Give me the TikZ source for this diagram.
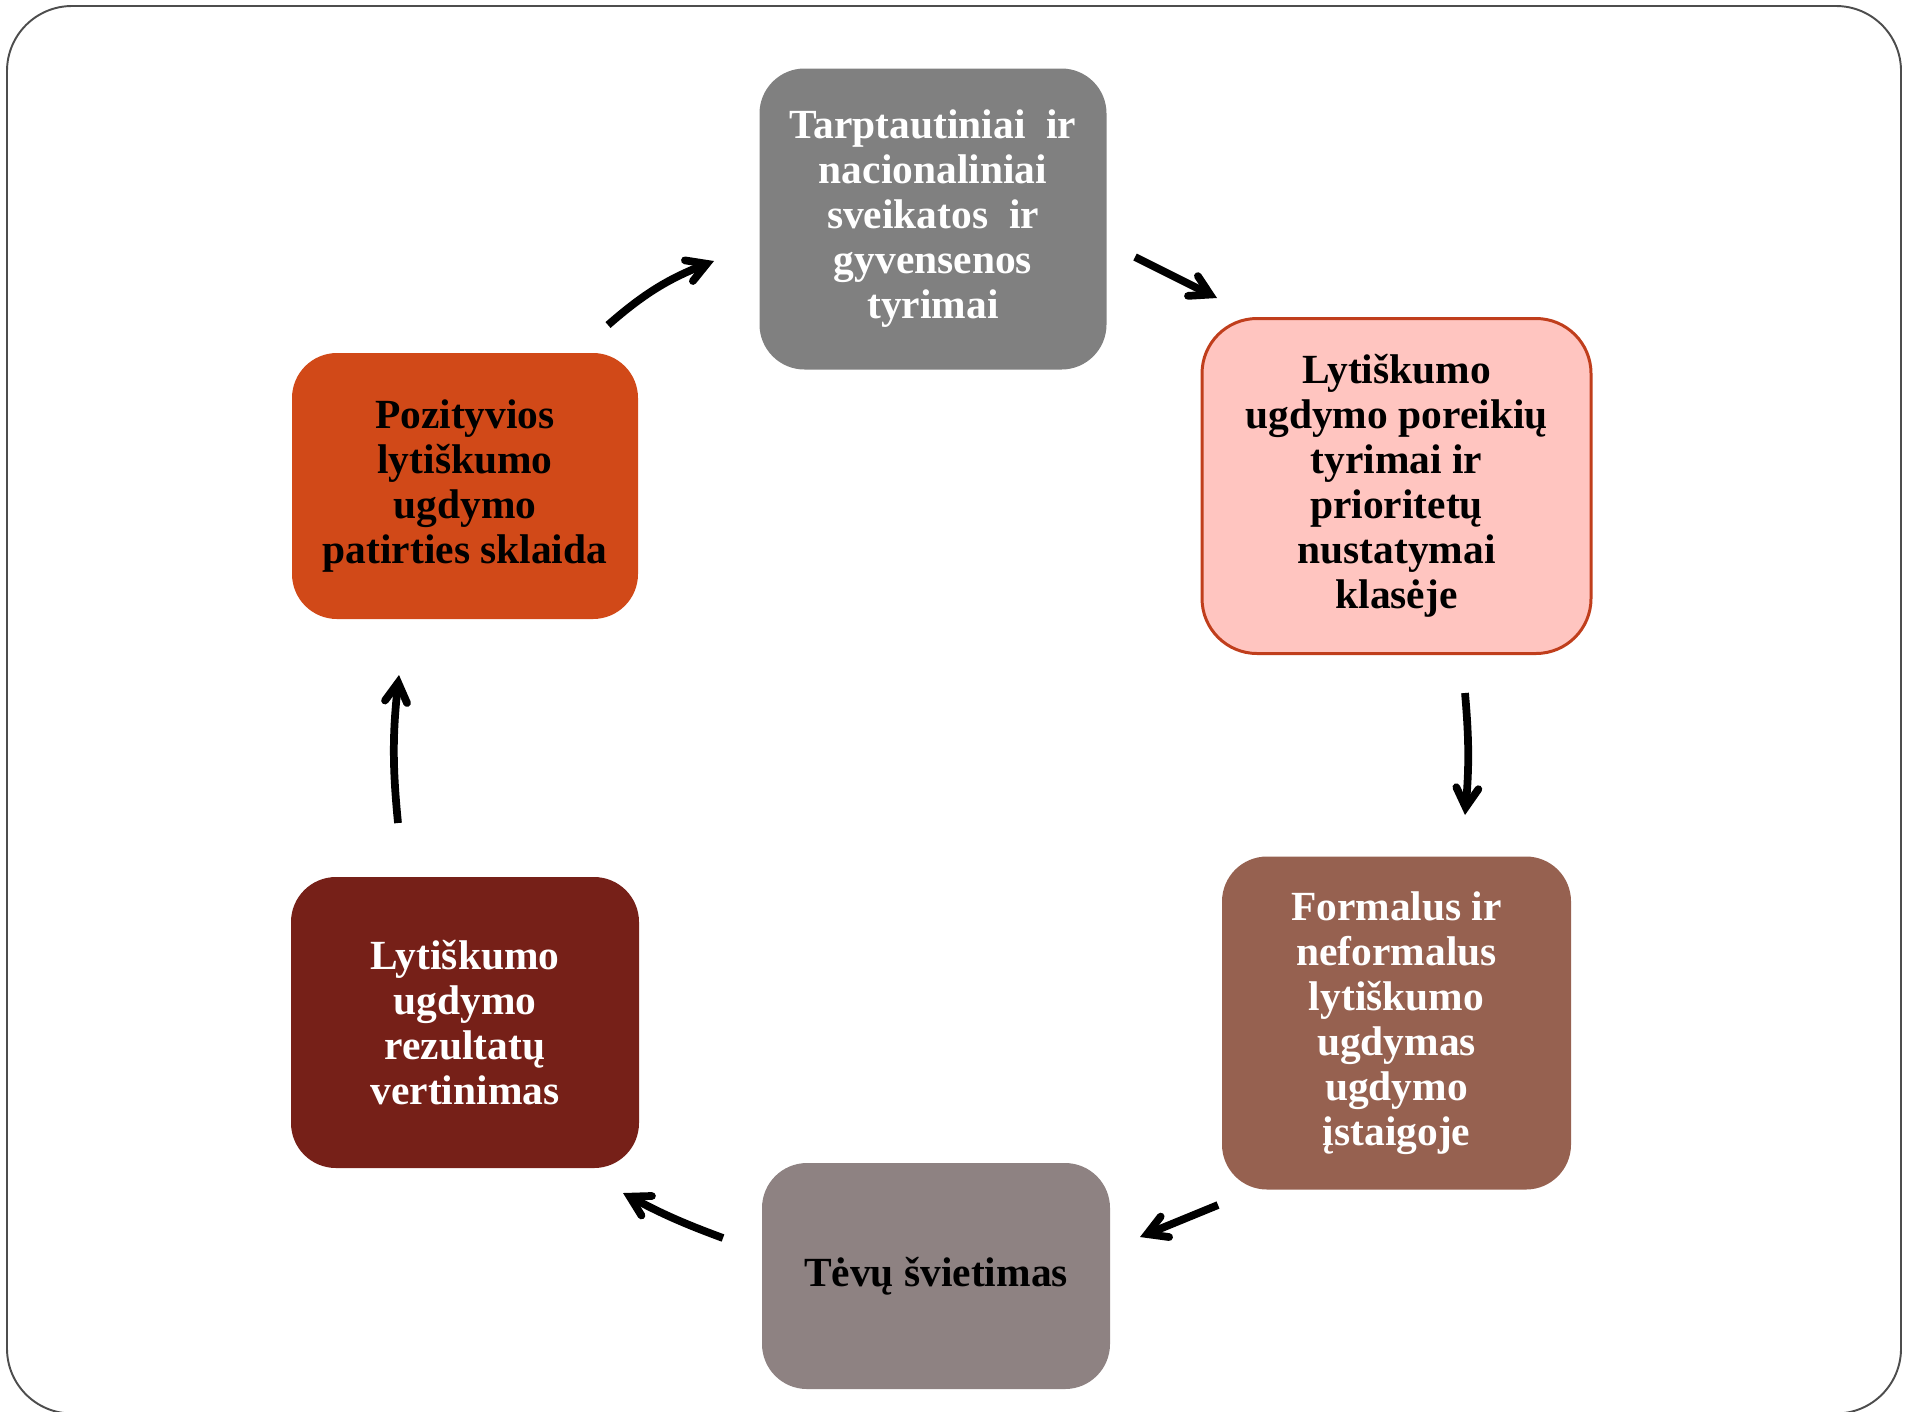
\documentclass[tikz,border=0pt]{standalone}
\usepackage{fontspec}
\setmainfont{Liberation Serif}
\usepackage{tikz}
\usetikzlibrary{arrows}

\definecolor{topgray}{RGB}{128,128,128}
\definecolor{pinkfill}{RGB}{255,197,192}
\definecolor{pinkline}{RGB}{192,62,28}
\definecolor{rust}{RGB}{209,73,24}
\definecolor{maroon}{RGB}{118,32,24}
\definecolor{brownish}{RGB}{150,97,80}
\definecolor{mauve}{RGB}{142,130,130}
\definecolor{framegray}{RGB}{77,77,77}

\begin{document}
\begin{tikzpicture}[->,>=angle 60,auto]
		\tikzstyle{stage}=[rectangle,rounded corners=0.9cm,align=center,inner sep=0pt,
			font=\bfseries\fontsize{23.6}{25.6}\selectfont];
		\tikzstyle{loop}=[line width=4.4pt,black];
		\useasboundingbox(0,0) rectangle (38.2,-28.22);
		\draw[-,framegray,line width=1.1pt,rounded corners=1.3cm](0.14,-0.12) rectangle (38.02,-28.27);

		\node[stage,fill=topgray,text=white,minimum width=6.94cm,minimum height=6.02cm](1) at (18.66,-4.38)
			{Tarptautiniai\ \ ir\\nacionaliniai\\sveikatos\ \ ir\\gyvensenos\\tyrimai};
		\node[stage,fill=rust,minimum width=6.92cm,minimum height=5.32cm](6) at (9.30,-9.72)
			{Pozityvios\\lytiškumo\\ugdymo\\patirties sklaida};
		\node[stage,fill=pinkfill,draw=pinkline,line width=1.7pt,rounded corners=1.1cm,
			minimum width=7.78cm,minimum height=6.70cm,right of=6,node distance=18.63cm](2)
			{Lytiškumo\\ugdymo poreikių\\tyrimai ir\\prioritetų\\nustatymai\\klasėje};
		\node[stage,fill=brownish,text=white,minimum width=6.98cm,minimum height=6.66cm,
			below of=2,node distance=10.74cm](3)
			{Formalus ir\\neformalus\\lytiškumo\\ugdymas\\ugdymo\\įstaigoje};
		\node[stage,fill=maroon,text=white,minimum width=6.96cm,minimum height=5.82cm,
			below of=6,node distance=10.73cm](5)
			{Lytiškumo\\ugdymo\\rezultatų\\vertinimas};
		\node[stage,fill=mauve,minimum width=6.96cm,minimum height=4.52cm,
			below of=1,node distance=21.14cm,xshift=0.06cm](4)
			{Tėvų švietimas};

		\coordinate(61) at (12.16,-6.50);
		\coordinate(16) at (14.28,-5.22);
		\coordinate(12) at (22.70,-5.14);
		\coordinate(21) at (24.34,-5.96);
		\coordinate(23) at (29.30,-13.86);
		\coordinate(32) at (29.30,-16.30);
		\coordinate(34) at (24.36,-24.10);
		\coordinate(43) at (22.80,-24.74);
		\coordinate(45) at (14.46,-24.76);
		\coordinate(54) at (12.46,-23.86);
		\coordinate(56) at (7.96,-16.46);
		\coordinate(65) at (7.98,-13.50);

		\draw[loop](61) to[bend left=10] (16);
		\draw[loop](12) -- (21);
		\draw[loop](23) to[bend left=5] (32);
		\draw[loop](34) -- (43);
		\draw[loop](45) to[bend left=4] (54);
		\draw[loop](56) to[bend left=6] (65);
	\end{tikzpicture}
\end{document}
